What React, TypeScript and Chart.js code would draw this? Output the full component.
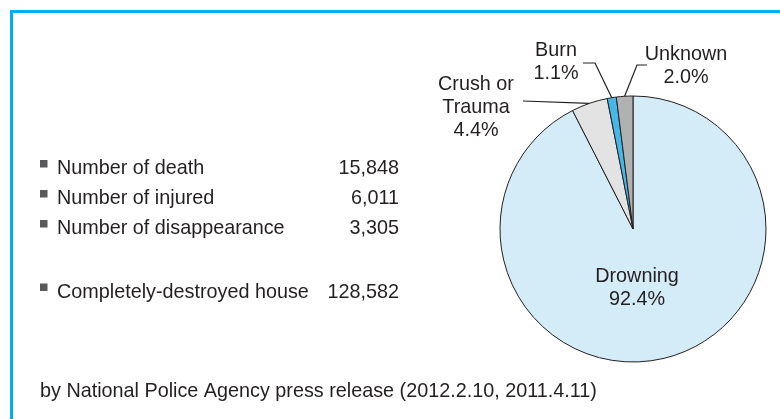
import { useEffect, useRef } from "react";
import { Chart, registerables } from "chart.js";

Chart.register(...registerables);

// ---- data ----
const categories = ["Drowning", "Crush or Trauma", "Burn", "Unknown"];
const shares = [92.4, 4.4, 1.1, 2.0];
const categoryLines = [["Drowning"], ["Crush or", "Trauma"], ["Burn"], ["Unknown"]];

const statNames = [
  "Number of death",
  "Number of injured",
  "Number of disappearance",
  "Completely-destroyed house",
];
const statValues = ["15,848", "6,011", "3,305", "128,582"];

const sourceNote = "by National Police Agency press release (2012.2.10, 2011.4.11)";

// ---- styles ----
const sliceColors = ["#d4ebf8", "#e3e3e3", "#45b8e8", "#b1b1b1"];
const inkColor = "#231f20";
const frameColor = "#00aeef";
const FONT = '19.8px "Liberation Sans", Arial, Helvetica, sans-serif';
const labelAnchors = [
  [637, 282],
  [476, 90],
  [556, 56],
  [686, 60],
];
const labelLineHeight = 23;
const leaderElbows: number[][][] = [
  [],
  [[523, 101]],
  [[583, 63], [595, 63]],
  [[647, 65], [637, 65]],
];
const statRowBaselines = [174, 204, 234, 297.5];

export default function App() {
  const ref = useRef<HTMLCanvasElement>(null);

  useEffect(() => {
    document.body.style.margin = "0";
    const canvas = ref.current!;

    const overlay = {
      id: "overlay",
      beforeDraw(chart: any) {
        const ctx = chart.ctx as CanvasRenderingContext2D;
        ctx.save();
        // frame
        ctx.fillStyle = frameColor;
        ctx.fillRect(10, 10, 3, 419);
        ctx.fillRect(10, 10, 780, 3);
        // table
        ctx.font = FONT;
        ctx.textBaseline = "alphabetic";
        statNames.forEach((name, i) => {
          const b = statRowBaselines[i];
          ctx.fillStyle = "#58595b";
          ctx.fillRect(40, b - 14, 7.5, 7.5);
          ctx.fillStyle = inkColor;
          ctx.textAlign = "left";
          ctx.fillText(name, 57, b);
          ctx.textAlign = "right";
          ctx.fillText(statValues[i], 399, b);
        });
        // footer
        ctx.textAlign = "left";
        ctx.fillText(sourceNote, 40, 396.5);
        ctx.restore();
      },
      afterDatasetsDraw(chart: any) {
        const ctx = chart.ctx as CanvasRenderingContext2D;
        const arcs = chart.getDatasetMeta(0).data;
        ctx.save();
        ctx.strokeStyle = inkColor;
        ctx.lineWidth = 1.2;
        arcs.forEach((arc: any, i: number) => {
          const elbows = leaderElbows[i];
          if (!elbows.length) return;
          const p = arc.getProps(["x", "y", "startAngle", "endAngle", "outerRadius"], true);
          const a = (p.startAngle + p.endAngle) / 2;
          const ex = p.x + Math.cos(a) * p.outerRadius;
          const ey = p.y + Math.sin(a) * p.outerRadius;
          ctx.beginPath();
          ctx.moveTo(elbows[0][0], elbows[0][1]);
          for (let k = 1; k < elbows.length; k++) ctx.lineTo(elbows[k][0], elbows[k][1]);
          ctx.lineTo(ex, ey);
          ctx.stroke();
        });
        ctx.font = FONT;
        ctx.fillStyle = inkColor;
        ctx.textAlign = "center";
        ctx.textBaseline = "alphabetic";
        categories.forEach((_, i) => {
          const lines = [...categoryLines[i], `${shares[i].toFixed(1)}%`];
          const [cx, by] = labelAnchors[i];
          lines.forEach((t, k) => ctx.fillText(t, cx, by + k * labelLineHeight));
        });
        ctx.restore();
      },
    };

    const chart = new Chart(canvas, {
      type: "pie",
      data: {
        labels: categories,
        datasets: [
          {
            data: shares,
            backgroundColor: sliceColors,
            borderColor: inkColor,
            borderWidth: 1,
            hoverOffset: 0,
          },
        ],
      },
      options: {
        responsive: false,
        animation: false,
        radius: 133,
        rotation: 0,
        layout: { padding: { left: 500, right: 14, top: 96, bottom: 57 } },
        plugins: { legend: { display: false }, tooltip: { enabled: false } },
      } as any,
      plugins: [overlay],
    });
    return () => chart.destroy();
  }, []);

  return (
    <canvas ref={ref} width={780} height={419} style={{ display: "block", background: "#ffffff" }} />
  );
}
